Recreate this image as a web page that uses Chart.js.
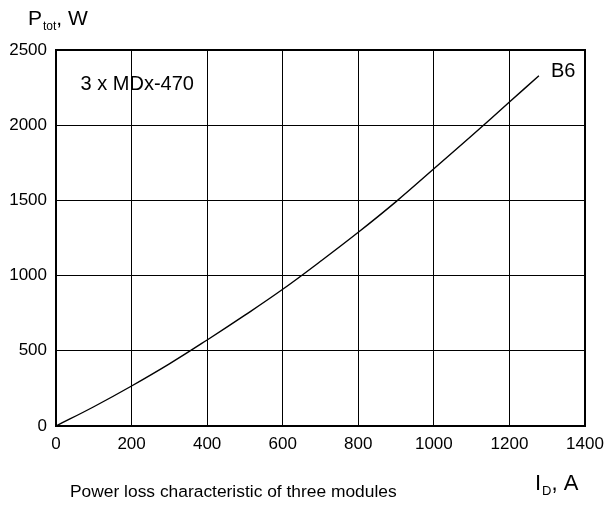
<!DOCTYPE html>
<html>
<head>
<meta charset="utf-8">
<script src="https://cdn.jsdelivr.net/npm/chart.js@4/dist/chart.umd.min.js"></script>
<style>
  html, body { margin: 0; padding: 0; background: #fff; }
  #wrap { width: 607px; height: 509px; }
</style>
</head>
<body>
<div id="wrap"><canvas id="lossChart" width="607" height="509"></canvas></div>
<script>
// values
const currentA = [0, 100, 200, 300, 400, 500, 600, 700, 800, 900, 1000, 1100, 1200, 1278];
const powerW = [0, 128, 266, 413, 572, 737, 909, 1095, 1288, 1492, 1710, 1930, 2154, 2329];
const xTicks = [0, 200, 400, 600, 800, 1000, 1200, 1400];
const yTicks = [0, 500, 1000, 1500, 2000, 2500];
const curveName = 'B6';
const moduleLabel = '3 x MDx-470';
const caption = 'Power loss characteristic of three modules';

const FONT = '"Liberation Sans", Arial, Helvetica, sans-serif';

const points = currentA.map((x, i) => ({ x: x, y: powerW[i] }));

// text with a lowered subscript part, e.g. P_tot, W
function subText(ctx, x, y, main, sub, rest, size, subSize) {
    ctx.font = size + 'px ' + FONT;
    ctx.fillText(main, x, y);
    x += ctx.measureText(main).width + 1;
    ctx.font = subSize + 'px ' + FONT;
    ctx.fillText(sub, x, y + 5);
    x += ctx.measureText(sub).width;
    ctx.font = size + 'px ' + FONT;
    ctx.fillText(rest, x, y);
}

// draws the frame, axis names, in-plot labels and caption
const textPlugin = {
    id: 'textPlugin',
    afterDraw(chart) {
        const ctx = chart.ctx;
        const area = chart.chartArea;
        const xs = chart.scales.x;
        const ys = chart.scales.y;

        ctx.save();
        ctx.strokeStyle = '#000';
        ctx.lineWidth = 2;
        ctx.strokeRect(area.left, area.top, area.right - area.left, area.bottom - area.top);

        ctx.fillStyle = '#000';
        ctx.textBaseline = 'alphabetic';
        ctx.textAlign = 'left';

        subText(ctx, 28, 25, 'P', 'tot', ', W', 21, 12);
        subText(ctx, 535, 490, 'I', 'D', ', A', 22, 13);

        // caption
        ctx.font = '17.4px ' + FONT;
        ctx.fillText(caption, 70, 497);

        // labels inside the plot
        ctx.font = '20px ' + FONT;
        ctx.textBaseline = 'middle';
        ctx.fillText(moduleLabel, xs.getPixelForValue(65), ys.getPixelForValue(2270));
        const last = points[points.length - 1];
        ctx.fillText(curveName, xs.getPixelForValue(last.x) + 12, ys.getPixelForValue(last.y) - 4);
        ctx.restore();
    }
};

new Chart(document.getElementById('lossChart').getContext('2d'), {
    type: 'line',
    data: {
        datasets: [
            {
                label: curveName,
                data: points,
                borderColor: '#000',
                borderWidth: 1.4,
                pointRadius: 0,
                tension: 0.4,
                fill: false
            }
        ]
    },
    options: {
        responsive: false,
        animation: false,
        devicePixelRatio: 1,
        layout: {
            padding: { left: 0, right: 22, top: 50, bottom: 0 }
        },
        plugins: {
            legend: { display: false },
            tooltip: { enabled: false }
        },
        scales: {
            x: {
                type: 'linear',
                min: 0,
                max: 1400,
                afterBuildTicks: (scale) => { scale.ticks = xTicks.map(v => ({ value: v })); },
                afterFit: (scale) => {
                    scale.height = 83;
                    scale.paddingLeft = 0;
                    scale.paddingRight = 0;
                },
                grid: { color: '#000', lineWidth: 1, drawTicks: false },
                border: { color: '#000', width: 2 },
                ticks: {
                    color: '#000',
                    padding: 8,
                    maxRotation: 0,
                    font: { family: FONT, size: 17 },
                    callback: (v) => String(v)
                }
            },
            y: {
                type: 'linear',
                min: 0,
                max: 2500,
                afterBuildTicks: (scale) => { scale.ticks = yTicks.map(v => ({ value: v })); },
                afterFit: (scale) => {
                    scale.width = 56;
                    scale.paddingTop = 0;
                    scale.paddingBottom = 0;
                },
                grid: { color: '#000', lineWidth: 1, drawTicks: false },
                border: { color: '#000', width: 2 },
                ticks: {
                    color: '#000',
                    padding: 9,
                    font: { family: FONT, size: 17 },
                    callback: (v) => String(v)
                }
            }
        }
    },
    plugins: [textPlugin]
});
</script>
</body>
</html>
